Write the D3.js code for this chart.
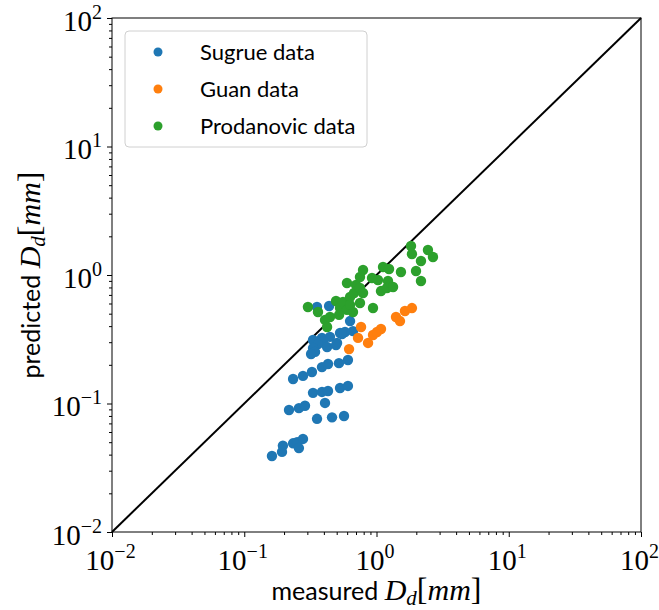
<!DOCTYPE html>
<html><head><meta charset="utf-8">
<script src="https://cdn.jsdelivr.net/npm/d3@7"></script>
<style>body{margin:0;background:#fff}</style>
</head><body><svg id="c" width="659" height="610"></svg>
<script>
// ---- data (measured, predicted) ----
const sugrueX = [0.355,0.438,0.631,0.578,0.664,0.530,0.445,0.387,0.331,0.394,0.361,0.331,0.343,0.423,0.503,0.548,0.494,0.320,
  0.234,0.278,0.325,0.387,0.430,0.520,0.608,
  0.331,0.387,0.430,0.530,0.608,0.408,
  0.218,0.259,0.288,0.355,0.461,0.568,
  0.162,0.193,0.196,0.234,0.251,0.278,0.259];
const sugrueY = [0.564,0.574,0.438,0.360,0.366,0.354,0.330,0.324,0.312,0.306,0.290,0.270,0.252,0.275,0.296,0.347,0.285,0.243,
  0.155,0.164,0.176,0.192,0.203,0.206,0.218,
  0.121,0.123,0.125,0.132,0.137,0.101,
  0.089,0.092,0.096,0.076,0.078,0.080,
  0.039,0.042,0.047,0.049,0.050,0.053,0.045];
const guanX = [0.620,0.725,0.764,0.863,0.941,1.009,1.081,1.404,1.505,1.641,1.854];
const guanY = [0.265,0.324,0.394,0.296,0.341,0.360,0.380,0.471,0.438,0.525,0.553];
const prodanovicX = [0.303,0.361,0.408,0.423,0.494,0.530,0.558,0.598,0.631,0.664,0.676,0.700,0.750,0.750,0.791,0.791,0.750,0.598,
  0.925,0.941,1.026,1.12,1.244,1.222,1.081,1.199,1.334,1.531,1.823,1.854,1.990,2.169,2.169,2.449,2.673,0.631,0.521,0.445];
const prodanovicY = [0.564,0.515,0.447,0.394,0.628,0.554,0.617,0.867,0.674,0.515,0.724,0.836,0.792,0.965,1.094,0.724,0.605,0.535,
  0.948,0.554,0.914,1.154,1.114,0.898,0.750,0.792,0.807,1.055,1.682,1.456,1.074,1.285,0.898,1.566,1.381,0.585,0.489,0.471];
const seriesNames = ["Sugrue data","Guan data","Prodanovic data"];
const seriesColors = ["#1f77b4","#ff7f0e","#2ca02c"];
const tickValues = [0.01,0.1,1,10,100];
const tickExponents = ["\u22122","\u22121","0","1","2"];

const series = [
  {name:seriesNames[0], color:seriesColors[0], pts:d3.zip(sugrueX,sugrueY)},
  {name:seriesNames[1], color:seriesColors[1], pts:d3.zip(guanX,guanY)},
  {name:seriesNames[2], color:seriesColors[2], pts:d3.zip(prodanovicX,prodanovicY)}
];

const svg = d3.select("#c");
const L=112, R=641, T=18, B=532;
const x = d3.scaleLog().domain([0.01,100]).range([L,R]);
const y = d3.scaleLog().domain([0.01,100]).range([B,T]);

const minor = [];
tickValues.slice(0,-1).forEach(d=>{for(let k=2;k<10;k++) minor.push(d*k);});

const serif = "'Liberation Serif','DejaVu Serif',serif";
const sans = "Lato,'Open Sans',sans-serif";

// diagonal
svg.append("line").attr("x1",x(0.01)).attr("y1",y(0.01)).attr("x2",x(100)).attr("y2",y(100))
  .attr("stroke","#000").attr("stroke-width",2);

// points
series.forEach(s=>{
  svg.append("g").selectAll("circle").data(s.pts).join("circle")
    .attr("cx",d=>x(d[0])).attr("cy",d=>y(d[1])).attr("r",5.2).attr("fill",s.color);
});

// frame
svg.append("rect").attr("x",L).attr("y",T).attr("width",R-L).attr("height",B-T)
  .attr("fill","none").attr("stroke","#000").attr("stroke-width",1);

function styleAxis(g){ g.select(".domain").remove(); g.selectAll("line").attr("stroke","#000").attr("stroke-width",1); }

// minor ticks
svg.append("g").attr("transform",`translate(0,${B})`).call(d3.axisBottom(x).tickValues(minor).tickSize(3).tickFormat("")).call(styleAxis);
svg.append("g").attr("transform",`translate(${L},0)`).call(d3.axisLeft(y).tickValues(minor).tickSize(3).tickFormat("")).call(styleAxis);

// major ticks with labels
function supLabels(g){
  g.selectAll(".tick text").each(function(d,i){
    const t=d3.select(this);
    t.text(null).attr("font-family",serif).attr("font-size",29).attr("fill","#000");
    t.append("tspan").text("10");
    t.append("tspan").attr("dy",-12).attr("font-size",20).text(tickExponents[i]);
  });
}
const gx = svg.append("g").attr("transform",`translate(0,${B})`)
  .call(d3.axisBottom(x).tickValues(tickValues).tickSize(5).tickPadding(7).tickFormat(()=>"")).call(styleAxis).call(supLabels);
gx.selectAll(".tick text").attr("dy",null).attr("y",38).attr("x",-2).attr("text-anchor","middle");
const gy = svg.append("g").attr("transform",`translate(${L},0)`)
  .call(d3.axisLeft(y).tickValues(tickValues).tickSize(5).tickPadding(7).tickFormat(()=>"")).call(styleAxis).call(supLabels);
gy.selectAll(".tick text").attr("dy",null).attr("y",12).attr("x",-10).attr("text-anchor","end");

// axis titles
function mathLabel(t, word){
  t.append("tspan").attr("font-family",sans).attr("font-size",25).text(word+" ");
  t.append("tspan").attr("font-family",serif).attr("font-style","italic").attr("font-size",30).text("D");
  t.append("tspan").attr("font-family",serif).attr("font-style","italic").attr("font-size",21).attr("dy",5).text("d");
  t.append("tspan").attr("font-family",serif).attr("font-size",32).attr("dy",-5).text("[");
  t.append("tspan").attr("font-family",serif).attr("font-style","italic").attr("font-size",30).text("mm");
  t.append("tspan").attr("font-family",serif).attr("font-size",32).text("]");
}
const xt = svg.append("text").attr("x",(L+R)/2).attr("y",600).attr("text-anchor","middle").attr("fill","#000");
mathLabel(xt,"measured");
const yt = svg.append("text").attr("transform",`translate(40,${(T+B)/2}) rotate(-90)`).attr("text-anchor","middle").attr("fill","#000");
mathLabel(yt,"predicted");

// legend
const lg = svg.append("g");
lg.append("rect").attr("x",125).attr("y",31).attr("width",242).attr("height",116).attr("rx",4)
  .attr("fill","#fff").attr("fill-opacity",0.8).attr("stroke","#d0d0d0").attr("stroke-width",1);
series.forEach((s,i)=>{
  const yy = 52 + i*37;
  lg.append("circle").attr("cx",158).attr("cy",yy).attr("r",4.5).attr("fill",s.color);
  lg.append("text").attr("x",200).attr("y",yy+7.5).attr("font-family",sans).attr("font-size",22).attr("fill","#000").text(s.name);
});
</script></body></html>
